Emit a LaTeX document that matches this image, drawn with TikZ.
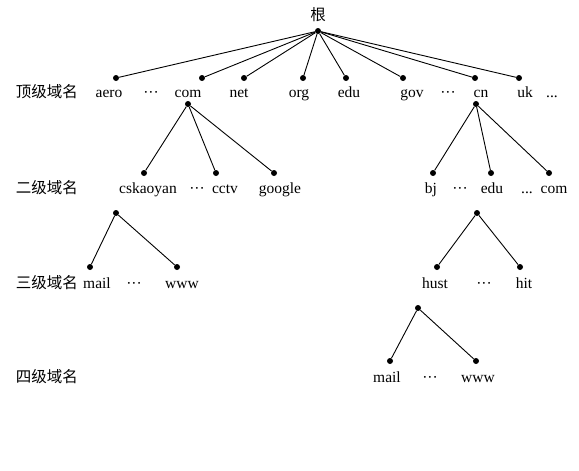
\documentclass[tikz,border=0pt]{standalone}
\usepackage{fontspec}
\setmainfont{Liberation Serif}
\newfontfamily\cjk{Noto Sans CJK SC}
\newcommand\mydots{···}
\begin{document}
\begin{tikzpicture}[x=1pt,y=-1pt,
  dot/.style={circle,fill=black,inner sep=0pt,minimum size=6pt},
  lbl/.style={anchor=base,inner sep=0pt,font=\fontsize{15.5}{18}\selectfont},
  lev/.style={anchor=base,inner sep=0pt,font=\fontsize{15.5}{18}\selectfont\cjk},
  edge/.style={draw=black,line width=0.9pt}]
\useasboundingbox[fill=white] (0,0) rectangle (579,471);
% root
\node[lev] (root) at (318,20) {根};
\node[dot] (r) at (318,31) {};
% top level dots
\node[dot] (aero) at (116,78) {};
\node[dot] (com) at (202,78) {};
\node[dot] (net) at (244,78) {};
\node[dot] (org) at (303,78) {};
\node[dot] (edu) at (346,78) {};
\node[dot] (gov) at (403,78) {};
\node[dot] (cn) at (475,78) {};
\node[dot] (uk) at (519,78) {};
\foreach \n in {aero,com,net,org,edu,gov,cn,uk} \draw[edge] (r) -- (\n);
% top level labels
\node[lev] (l1) at (47,97) {顶级域名};
\node[lbl] (taero) at (109,97) {aero};
\node[lbl] (td1) at (151,97) {\mydots};
\node[lbl] (tcom) at (188,97) {com};
\node[lbl] (tnet) at (239,97) {net};
\node[lbl] (torg) at (299,97) {org};
\node[lbl] (tedu) at (349,97) {edu};
\node[lbl] (tgov) at (412,97) {gov};
\node[lbl] (td2) at (448,97) {\mydots};
\node[lbl] (tcn) at (481,97) {cn};
\node[lbl] (tuk) at (525,97) {uk};
\node[lbl] (td3) at (552,97) {...};
% second level
\node[dot] (comc) at (188,104) {};
\node[dot] (cnc) at (476,104) {};
\node[dot] (csk) at (144,173) {};
\node[dot] (cctv) at (216,173) {};
\node[dot] (google) at (274,173) {};
\node[dot] (bj) at (433,173) {};
\node[dot] (edub) at (491,173) {};
\node[dot] (comb) at (549,173) {};
\foreach \n in {csk,cctv,google} \draw[edge] (comc) -- (\n);
\foreach \n in {bj,edub,comb} \draw[edge] (cnc) -- (\n);
\node[lev] (l2) at (47,193) {二级域名};
\node[lbl] (scsk) at (148,193) {cskaoyan};
\node[lbl] (sd1) at (197,193) {\mydots};
\node[lbl] (scctv) at (225,193) {cctv};
\node[lbl] (sgoogle) at (280,193) {google};
\node[lbl] (sbj) at (431,193) {bj};
\node[lbl] (sd2) at (460,193) {\mydots};
\node[lbl] (sedu) at (492,193) {edu};
\node[lbl] (sd3) at (527,193) {...};
\node[lbl] (scom) at (554,193) {com};
% third level
\node[dot] (cskc) at (116,213) {};
\node[dot] (educ) at (477,213) {};
\node[dot] (mail) at (90,267) {};
\node[dot] (www) at (177,267) {};
\node[dot] (hust) at (437,267) {};
\node[dot] (hit) at (520,267) {};
\draw[edge] (cskc) -- (mail);
\draw[edge] (cskc) -- (www);
\draw[edge] (educ) -- (hust);
\draw[edge] (educ) -- (hit);
\node[lev] (l3) at (47,288) {三级域名};
\node[lbl] (hmail) at (97,288) {mail};
\node[lbl] (hd1) at (134,288) {\mydots};
\node[lbl] (hwww) at (182,288) {www};
\node[lbl] (hhust) at (435,288) {hust};
\node[lbl] (hd2) at (484,288) {\mydots};
\node[lbl] (hhit) at (524,288) {hit};
% fourth level
\node[dot] (hustc) at (418,308) {};
\node[dot] (mailb) at (390,361) {};
\node[dot] (wwwb) at (476,361) {};
\draw[edge] (hustc) -- (mailb);
\draw[edge] (hustc) -- (wwwb);
\node[lev] (l4) at (47,382) {四级域名};
\node[lbl] (fmail) at (387,382) {mail};
\node[lbl] (fd) at (430,382) {\mydots};
\node[lbl] (fwww) at (478,382) {www};
\end{tikzpicture}
\end{document}
